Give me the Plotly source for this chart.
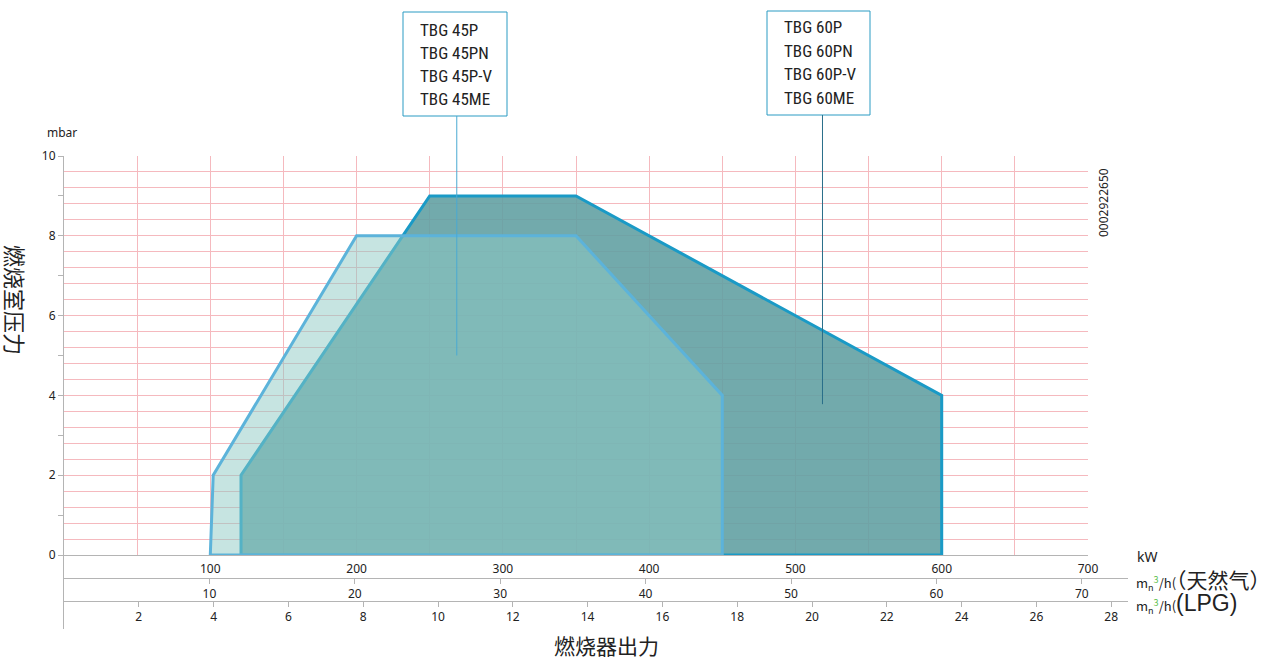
import plotly.graph_objects as go

# ---------------- data ----------------
kw_45 = [100, 102, 200, 350, 450, 450, 100]
mbar_45 = [0, 2, 8, 8, 4, 0, 0]
kw_60 = [121, 121, 250, 350, 600, 600, 121]
mbar_60 = [0, 2, 9, 9, 4, 0, 0]

models_45 = ["TBG 45P", "TBG 45PN", "TBG 45P-V", "TBG 45ME"]
models_60 = ["TBG 60P", "TBG 60PN", "TBG 60P-V", "TBG 60ME"]
pointer_45 = (268.5, 5.0)   # kW, mbar
pointer_60 = (518.5, 3.78)

kw_ticks = [100, 200, 300, 400, 500, 600, 700]
kw_grid = [50 * i for i in range(1, 15)]
ng_ticks = [10, 20, 30, 40, 50, 60, 70]
lpg_ticks = [2, 4, 6, 8, 10, 12, 14, 16, 18, 20, 22, 24, 26, 28]
p_ticks = list(range(0, 11))
p_labels = [str(v) if v % 2 == 0 else "" for v in p_ticks]
p_grid = [round(0.4 * i, 1) for i in range(1, 26)]

# ---------------- geometry helpers ----------------
L, R, T, B = 64, 1128, 156, 629
PW, PH = R - L, B - T
def px(x):
    return (x - L) / PW
def py(y):
    return (B - y) / PH

ydom0 = py(555)
xdom1 = px(1088)
def mbar_to_paper(v):
    return ydom0 + v / 10 * (1 - ydom0)

FONT = "Noto Sans, Open Sans, sans-serif"
NARROW = "Liberation Sans Narrow, Arial Narrow, Roboto Condensed, sans-serif"
CJK = "Noto Sans CJK SC, sans-serif"
GRID = "#f5b9be"
AXIS = "#b4b4b4"

fig = go.Figure()

fig.add_trace(go.Scatter(
    x=kw_60, y=mbar_60, mode="lines", fill="toself",
    fillcolor="rgba(99,161,163,0.9)",
    line=dict(color="#1a9ac6", width=3), hoverinfo="skip", showlegend=False))
fig.add_trace(go.Scatter(
    x=kw_45, y=mbar_45, mode="lines", fill="toself",
    fillcolor="rgba(141,201,195,0.5)",
    line=dict(color="#5cb3da", width=3), hoverinfo="skip", showlegend=False))

# dummy traces to create the extra axes
fig.add_trace(go.Scatter(x=[None], y=[None], xaxis="x", yaxis="y5", showlegend=False, hoverinfo="skip"))
fig.add_trace(go.Scatter(x=[None], y=[None], xaxis="x2", yaxis="y2", showlegend=False, hoverinfo="skip"))
fig.add_trace(go.Scatter(x=[None], y=[None], xaxis="x3", yaxis="y2", showlegend=False, hoverinfo="skip"))

tickfont = dict(family=FONT, size=12, color="#222")

fig.update_layout(
    template="none",
    width=1276, height=659,
    margin=dict(l=L, r=1276 - R, t=T, b=659 - B),
    paper_bgcolor="white", plot_bgcolor="rgba(0,0,0,0)",
    showlegend=False,
    xaxis=dict(domain=[0, xdom1], range=[0, 700], anchor="y",
               tickvals=kw_grid,
               ticktext=[str(v) if v % 100 == 0 else " " for v in kw_grid],
               ticks="outside", ticklen=3, tickcolor="rgba(0,0,0,0)",
               showgrid=True, gridcolor=GRID, gridwidth=1,
               showline=True, linecolor=AXIS, linewidth=1, zeroline=False,
               tickfont=tickfont, fixedrange=True),
    yaxis=dict(domain=[ydom0, 1], range=[0, 10], anchor="x",
               tickvals=p_ticks, ticktext=p_labels,
               ticks="outside", ticklen=5, tickcolor=AXIS,
               showgrid=False,
               showline=True, linecolor=AXIS, linewidth=1, zeroline=False,
               tickfont=tickfont, fixedrange=True),
    yaxis5=dict(overlaying="y", side="left", range=[0, 10], anchor="x",
                tickvals=p_grid, showticklabels=False, ticks="",
                showgrid=True, gridcolor=GRID, gridwidth=1,
                showline=False, zeroline=False, fixedrange=True),
    yaxis2=dict(domain=[0, ydom0], range=[0, 1], anchor="x2",
                showticklabels=False, ticks="", showgrid=False,
                showline=True, linecolor=AXIS, linewidth=1, zeroline=False,
                fixedrange=True),
    xaxis2=dict(domain=[0, 1], range=[0, PW / 14.54], anchor="free", position=py(578),
                tickvals=ng_ticks, ticks="outside", ticklen=5, tickcolor=AXIS,
                showgrid=False, showline=True, linecolor=AXIS, linewidth=1,
                zeroline=False, tickfont=tickfont, fixedrange=True),
    xaxis3=dict(domain=[0, 1], range=[0, PW / 37.4], anchor="free", position=py(601),
                tickvals=lpg_ticks, ticks="outside", ticklen=5, tickcolor=AXIS,
                showgrid=False, showline=True, linecolor=AXIS, linewidth=1,
                zeroline=False, tickfont=tickfont, fixedrange=True),
)

shapes = []
annotations = []

# legend boxes with pointer lines
def add_box(x0, x1, y0, y1, text_x, first_y, step, names, pointer, color_box, color_line):
    shapes.append(dict(type="rect", xref="paper", yref="paper",
                       x0=px(x0), x1=px(x1), y0=py(y1), y1=py(y0),
                       line=dict(color=color_box, width=1), fillcolor="white"))
    shapes.append(dict(type="line", xref="x", yref="paper",
                       x0=pointer[0], x1=pointer[0],
                       y0=mbar_to_paper(pointer[1]), y1=py(y1),
                       line=dict(color=color_line, width=1)))
    for i, n in enumerate(names):
        annotations.append(dict(xref="paper", yref="paper", x=px(text_x), y=py(first_y + step * i),
                                xanchor="left", yanchor="middle", showarrow=False, text=n,
                                font=dict(family=NARROW, size=17, color="#222")))

add_box(403, 507, 12, 116, 418, 30, 23, models_45, pointer_45, "#2a9bc3", "#4aa9d3")
add_box(767, 870, 11, 115, 782, 27, 23.7, models_60, pointer_60, "#2a9bc3", "#2a6f8a")

# axis labels / texts
annotations += [
    dict(xref="paper", yref="paper", x=px(45), y=py(132), text="mbar", showarrow=False,
         xanchor="left", yanchor="middle", font=dict(family=FONT, size=12, color="#222")),
    dict(xref="paper", yref="paper", x=px(16), y=py(300), text="燃烧室压力", showarrow=False,
         textangle=90, xanchor="center", yanchor="middle", font=dict(family=CJK, size=22, color="#222")),
    dict(xref="paper", yref="paper", x=px(606), y=py(645), text="燃烧器出力", showarrow=False,
         xanchor="center", yanchor="middle", font=dict(family=CJK, size=21, color="#222")),
    dict(xref="paper", yref="paper", x=px(1103), y=py(203), text="0002922650", showarrow=False,
         textangle=-90, xanchor="center", yanchor="middle", font=dict(family=FONT, size=12, color="#222")),
    dict(xref="paper", yref="paper", x=px(1135), y=py(556), text="kW", showarrow=False,
         xanchor="left", yanchor="middle", font=dict(family=FONT, size=14, color="#222")),
    dict(xref="paper", yref="paper", x=px(1134), y=py(579),
         text="m<sub>n</sub><sup><span style='color:#5cbf4c'>3</span></sup>/h(<span style='font-size:21px'>（天然气）</span>",
         showarrow=False, xanchor="left", yanchor="middle", font=dict(family=CJK, size=13, color="#222")),
    dict(xref="paper", yref="paper", x=px(1134), y=py(603),
         text="m<sub>n</sub><sup><span style='color:#5cbf4c'>3</span></sup>/h(<span style='font-size:23px;font-family:Liberation Sans'>(LPG)</span>",
         showarrow=False, xanchor="left", yanchor="middle", font=dict(family=CJK, size=13, color="#222")),
]

fig.update_layout(shapes=shapes, annotations=annotations)
fig.write_html("out.html", config={"displayModeBar": False},
               post_script="document.body.style.margin='0px';")
